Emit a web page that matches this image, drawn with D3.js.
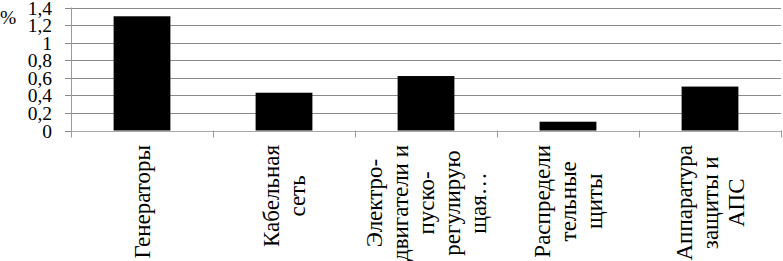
<!DOCTYPE html>
<html><head><meta charset="utf-8">
<script src="https://cdn.jsdelivr.net/npm/d3@7/dist/d3.min.js"></script>
<style>body{margin:0;background:#fff}svg{display:block}</style>
</head><body><svg id="c" width="783" height="261"></svg>
<script>
const categories = ["Генераторы", "Кабельная сеть", "Электро-двигатели и пуско-регулирующая", "Распределительные щиты", "Аппаратура защиты и АПС"];
const categoryLines = [
  ["Генераторы"],
  ["Кабельная", "сеть"],
  ["Электро-", "двигатели и", "пуско-", "регулирую", "щая…"],
  ["Распредели", "тельные", "щиты"],
  ["Аппаратура", "защиты и", "АПС"]
];
const values = [1.3, 0.43, 0.62, 0.1, 0.5];
const yTicks = [0, 0.2, 0.4, 0.6, 0.8, 1, 1.2, 1.4];
const yTickLabels = ["0", "0,2", "0,4", "0,6", "0,8", "1", "1,2", "1,4"];
const yTitle = "%";

const svg = d3.select("#c");
const L = 71, R = 781, T = 7.5, B = 130.5;
const font = "'Liberation Serif','Times New Roman',serif";

const x = d3.scaleBand().domain(categories).range([L, R]).paddingInner(0.6).paddingOuter(0.3);
const y = d3.scaleLinear().domain([0, 1.4]).range([B, T]);

// gridlines
svg.append("g").selectAll("line").data(yTicks.slice(1)).join("line")
  .attr("x1", L - 6).attr("x2", R).attr("y1", d => Math.round(y(d)) + 0.5).attr("y2", d => Math.round(y(d)) + 0.5)
  .attr("stroke", "#8a8a8a").attr("stroke-width", 1);
svg.append("line").attr("x1", L - 6).attr("x2", L).attr("y1", Math.round(y(0)) + 0.5).attr("y2", Math.round(y(0)) + 0.5)
  .attr("stroke", "#8a8a8a");

// bars
svg.append("g").selectAll("rect").data(values).join("rect")
  .attr("x", (d, i) => x(categories[i]))
  .attr("width", x.bandwidth())
  .attr("y", d => y(d))
  .attr("height", d => y(0) - y(d))
  .attr("fill", "#000");

// axes
svg.append("line").attr("x1", L + 0.5).attr("x2", L + 0.5).attr("y1", T).attr("y2", B + 7).attr("stroke", "#9a9a9a");
svg.append("line").attr("x1", L).attr("x2", R).attr("y1", Math.round(y(0)) + 0.5).attr("y2", Math.round(y(0)) + 0.5).attr("stroke", "#a8a8a8");
const step = x.step();
svg.append("g").selectAll("line").data(categories).join("line")
  .attr("x1", (d) => Math.round(x(d) - 0.3 * step + step) + 0.5)
  .attr("x2", (d) => Math.round(x(d) - 0.3 * step + step) + 0.5)
  .attr("y1", B).attr("y2", B + 7).attr("stroke", "#9a9a9a");

// y labels
svg.append("g").selectAll("text").data(yTicks).join("text")
  .attr("x", 52).attr("y", d => y(d)).attr("dy", "0.36em")
  .attr("text-anchor", "end").attr("font-family", font).attr("font-size", 19.5)
  .text((d, i) => yTickLabels[i]);
svg.append("text").attr("x", 0).attr("y", 17).attr("dy", "0.36em")
  .attr("font-family", font).attr("font-size", 19.5).text(yTitle);

// x labels
const lh = 26, topY = 145;
categories.forEach((c, i) => {
  const cx = x(c) + x.bandwidth() / 2;
  const g = svg.append("g").attr("transform", `translate(${cx},0) rotate(-90)`);
  const lines = categoryLines[i];
  const ts = lines.map((t, j) => g.append("text")
    .attr("y", (j - (lines.length - 1) / 2) * lh).attr("dy", "0.35em")
    .attr("text-anchor", "middle").attr("font-family", font).attr("font-size", 23).text(t));
  const maxW = d3.max(ts, t => t.node().getComputedTextLength());
  ts.forEach(t => t.attr("x", -(topY + maxW / 2)));
});
</script></body></html>
